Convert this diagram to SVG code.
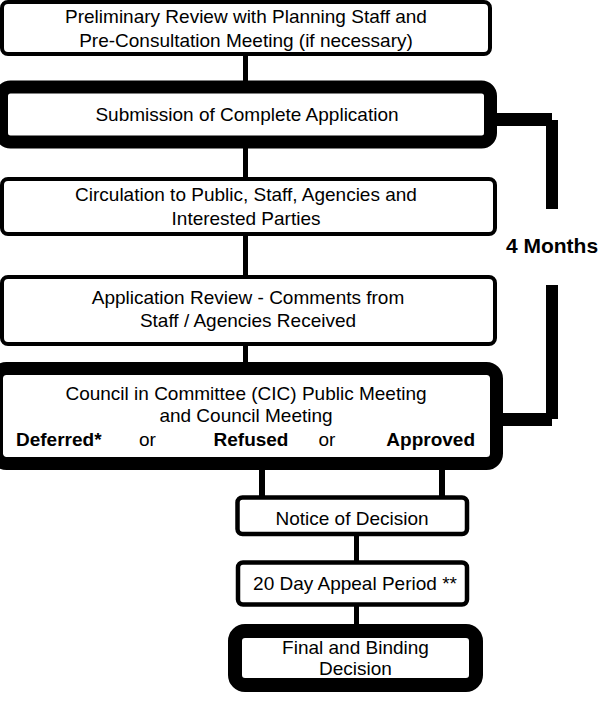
<svg xmlns="http://www.w3.org/2000/svg" width="604" height="702" viewBox="0 0 604 702">
<style>
.box{fill:#fff;stroke:#000;stroke-width:4}
.thick{fill:#fff;stroke:#000;stroke-width:13}
.t{font-family:"Liberation Sans",Arial,sans-serif;font-size:19px;fill:#000;text-anchor:middle}
.b{font-weight:bold}
.conn line{stroke:#000;stroke-width:5}
</style>
<rect width="604" height="702" fill="#fff"/>
<g id="connectors" class="conn">
<line x1="245.5" y1="54" x2="245.5" y2="82"/>
<line x1="245.5" y1="146" x2="245.5" y2="179"/>
<line x1="245.5" y1="234" x2="245.5" y2="277"/>
<line x1="245.5" y1="344" x2="245.5" y2="364"/>
<line x1="262" y1="468" x2="262" y2="497" style="stroke-width:6"/>
<line x1="442" y1="468" x2="442" y2="497" style="stroke-width:6"/>
<line x1="356.5" y1="534" x2="356.5" y2="562"/>
<line x1="356.5" y1="605" x2="356.5" y2="626"/>
<g id="bracket" fill="#000">
<rect x="495" y="113" width="57" height="13"/>
<rect x="546" y="120" width="12" height="89"/>
<rect x="546" y="285" width="12" height="134"/>
<rect x="500" y="413" width="52" height="13"/>
</g>
</g>
<g id="n1"><rect class="box" x="2" y="2" width="488" height="52" rx="6"/>
<text class="t" x="246" y="23">Preliminary Review with Planning Staff and</text>
<text class="t" x="246" y="47">Pre-Consultation Meeting (if necessary)</text></g>
<g id="n2"><rect class="thick" x="1.5" y="87" width="489" height="55" rx="9"/>
<text class="t" x="247" y="121">Submission of Complete Application</text></g>
<g id="n3"><rect class="box" x="2" y="179" width="493" height="55" rx="6"/>
<text class="t" x="246" y="201">Circulation to Public, Staff, Agencies and</text>
<text class="t" x="246" y="225">Interested Parties</text></g>
<g id="n4"><rect class="box" x="2" y="277" width="493" height="67" rx="6"/>
<text class="t" x="248" y="304">Application Review - Comments from</text>
<text class="t" x="248" y="327">Staff / Agencies Received</text></g>
<g id="n5"><rect class="thick" x="-3.5" y="368.5" width="500" height="95" rx="10"/>
<text class="t" x="246" y="400">Council in Committee (CIC) Public Meeting</text>
<text class="t" x="246" y="422">and Council Meeting</text>
<text class="t b" x="16" y="446" style="text-anchor:start">Deferred*</text>
<text class="t" x="147.5" y="446">or</text>
<text class="t b" x="251" y="446">Refused</text>
<text class="t" x="327" y="446">or</text>
<text class="t b" x="475" y="446" style="text-anchor:end">Approved</text></g>
<g id="n6"><rect class="box" x="237.5" y="497.5" width="229.5" height="36.5" rx="5" style="stroke-width:4.5"/>
<text class="t" x="352" y="525">Notice of Decision</text></g>
<g id="n7"><rect class="box" x="238" y="562.5" width="229" height="42" rx="5" style="stroke-width:4.5"/>
<text class="t" x="355" y="590">20 Day Appeal Period **</text></g>
<g id="n8"><rect class="thick" x="235" y="631" width="241" height="54" rx="10" style="stroke-width:14"/>
<text class="t" x="355.5" y="654">Final and Binding</text>
<text class="t" x="355.5" y="675">Decision</text></g>
<text id="months" class="t b" x="552" y="253" style="font-size:21px">4 Months</text>
</svg>
